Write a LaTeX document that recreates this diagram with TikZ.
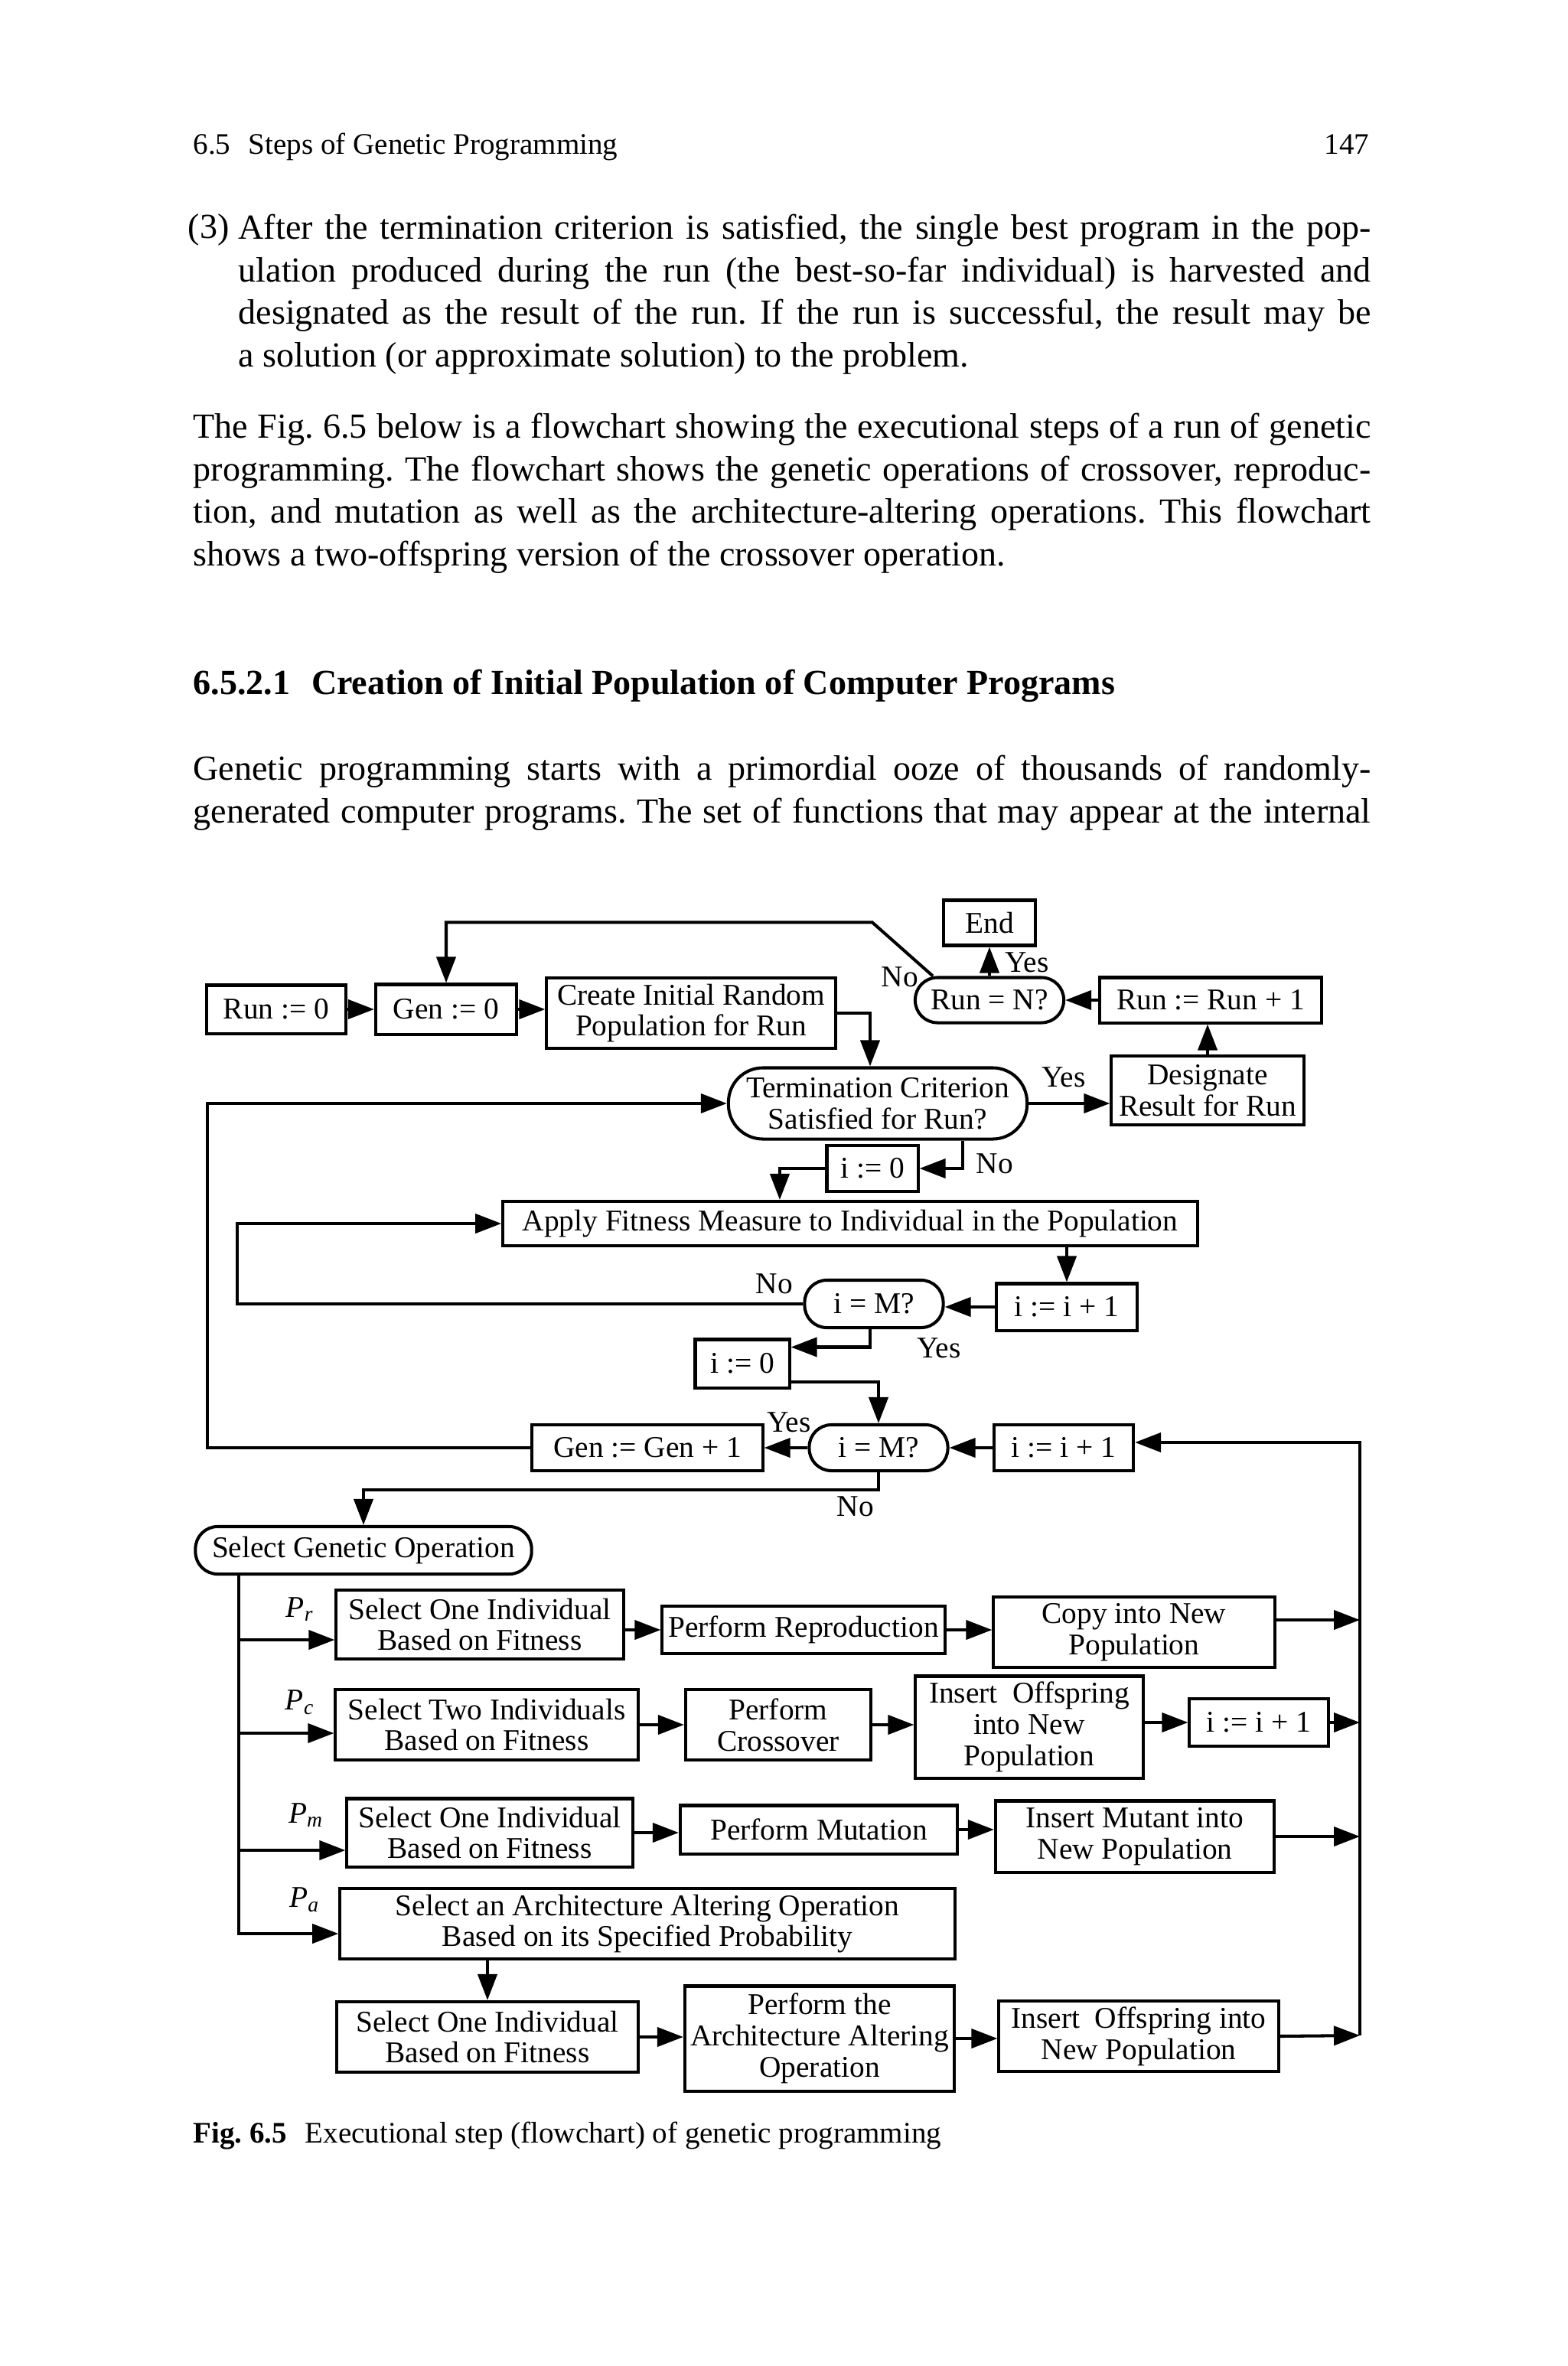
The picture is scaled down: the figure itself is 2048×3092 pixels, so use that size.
\documentclass[tikz,border=0pt]{standalone}
\usepackage{fontspec}
\setmainfont{Liberation Serif}
\usetikzlibrary{positioning, arrows.meta, calc}
\newcommand{\pagetext}{\fontsize{13.1}{15.8}\selectfont}
\newcommand{\smalltext}{\fontsize{11.1}{13.3}\selectfont}
\newcommand{\chartfont}{\fontsize{11.2}{11.6}\selectfont}
\tikzset{sz/.style 2 args={minimum width=#1cm, minimum height=#2cm}}
\frenchspacing

\begin{document}
\begin{tikzpicture}[x=0.01cm, y=-0.01cm,
    box/.style={draw, line width=1.15pt, align=center, inner sep=1pt, font=\chartfont},
    decide/.style={box, rounded corners=0.29cm},
    lbl/.style={font=\chartfont, inner sep=0pt},
    arr/.style={line width=1.15pt, -{Triangle[length=0.34cm, width=0.25cm]}},
    para/.style={anchor=north west, align=justify, inner sep=0pt, font=\pagetext}]
  \useasboundingbox (0,0) rectangle (2048,3092);
  \fill[white] (0,0) rectangle (2048,3092);

  % page text
  \node[anchor=base west, font=\smalltext, inner sep=0pt] (head) at (252,202)
    {6.5\hspace{0.6em}Steps of Genetic Programming};
  \node[anchor=base east, font=\smalltext, inner sep=0pt] (pageno) at (1790,202) {147};
  \node[anchor=base west, font=\pagetext, inner sep=0pt] (itemno) at (245,312) {(3)};
  \node[para, text width=14.79cm] (item) at (311,273)
    {\strut After the termination criterion is satisfied, the single best program in the pop-\linebreak
     ulation produced during the run (the best-so-far individual) is harvested and\linebreak
     designated as the result of the run. If the run is successful, the result may be\linebreak
     a solution (or approximate solution) to the problem.};
  \node[para, text width=15.38cm] (intro) at (252,533)
    {\strut The Fig.~6.5 below is a flowchart showing the executional steps of a run of genetic\linebreak
     programming. The flowchart shows the genetic operations of crossover, reproduc-\linebreak
     tion, and mutation as well as the architecture-altering operations. This flowchart\linebreak
     shows a two-offspring version of the crossover operation.};
  \node[anchor=base west, font=\pagetext\bfseries, inner sep=0pt] (sect) at (252,908)
    {6.5.2.1\hspace{0.6em}Creation of Initial Population of Computer Programs};
  \node[para, text width=15.38cm] (ooze) at (252,980)
    {\strut Genetic programming starts with a primordial ooze of thousands of randomly-\linebreak
     generated computer programs. The set of functions that may appear at the internal{\parfillskip=0pt\par}};

  % flowchart: run and generation loop
  \node[box, sz={1.82}{0.63}] (run0) at (361,1319) {Run := 0};
  \node[box, sz={1.84}{0.65}] (gen0) at (583,1319) {Gen := 0};
  \node[box, sz={3.77}{0.92}] (create) at (903,1324) {Create Initial Random\\Population for Run};
  \node[box, sz={1.20}{0.59}] (endbox) at (1293,1206) {End};
  \node[decide, sz={1.94}{0.59}] (runN) at (1293,1307) {Run = N?};
  \node[box, sz={2.90}{0.59}] (runinc) at (1582,1307) {Run := Run + 1};
  \node[decide, rounded corners=0.45cm, sz={3.90}{0.93}] (term) at (1147,1442)
    {Termination Criterion\\Satisfied for Run?};
  \node[box, sz={2.51}{0.90}] (desig) at (1578,1425) {Designate\\Result for Run};
  \node[box, sz={1.19}{0.60}] (izero) at (1140,1527) {i := 0};
  \node[box, sz={9.07}{0.58}] (apply) at (1111,1599)
    {Apply Fitness Measure to Individual in the Population};
  \node[decide, sz={1.81}{0.62}] (imA) at (1142,1704) {i = M?};
  \node[box, sz={1.84}{0.61}] (iincA) at (1394,1708) {i := i + 1};
  \node[box, sz={1.23}{0.63}] (izeroB) at (970,1782) {i := 0};
  \node[decide, sz={1.81}{0.60}] (imB) at (1148,1892) {i = M?};
  \node[box, sz={1.82}{0.60}] (iincB) at (1390,1892) {i := i + 1};
  \node[box, sz={3.01}{0.60}] (geninc) at (846,1892) {Gen := Gen + 1};
  \node[decide, sz={4.39}{0.62}] (selop) at (475,2026) {Select Genetic Operation};

  % genetic operations
  \node[box, sz={3.75}{0.90}] (rsel) at (627,2123) {Select One Individual\\Based on Fitness};
  \node[box, sz={3.69}{0.62}] (rrep) at (1050,2130) {Perform Reproduction};
  \node[box, sz={3.67}{0.92}] (rcopy) at (1482,2133) {Copy into New\\Population};
  \node[box, sz={3.95}{0.92}] (csel) at (636,2254) {Select Two Individuals\\Based on Fitness};
  \node[box, sz={2.42}{0.92}] (ccross) at (1017,2254) {Perform\\Crossover};
  \node[box, sz={2.97}{1.33}] (cins) at (1345,2257) {Insert\ \ Offspring\\into New\\Population};
  \node[box, sz={1.81}{0.62}] (cinc) at (1645,2251) {i := i + 1};
  \node[box, sz={3.73}{0.89}] (msel) at (640,2395) {Select One Individual\\Based on Fitness};
  \node[box, sz={3.62}{0.63}] (mmut) at (1070,2391) {Perform Mutation};
  \node[box, sz={3.64}{0.93}] (mins) at (1483,2400) {Insert Mutant into\\New Population};
  \node[box, sz={8.03}{0.92}] (asel) at (846,2514)
    {Select an Architecture Altering Operation\\Based on its Specified Probability};
  \node[box, sz={3.94}{0.92}] (aone) at (637,2662) {Select One Individual\\Based on Fitness};
  \node[box, sz={3.52}{1.37}] (aperf) at (1071,2664) {Perform the\\Architecture Altering\\Operation};
  \node[box, sz={3.65}{0.92}] (ains) at (1488,2661) {Insert\ \ Offspring into\\New Population};

  \node[lbl] (prlbl) at (392,2103) {\textit{P\textsubscript{r}}};
  \node[lbl] (pclbl) at (392,2225) {\textit{P\textsubscript{c}}};
  \node[lbl] (pmlbl) at (400,2372) {\textit{P\textsubscript{m}}};
  \node[lbl] (palbl) at (398,2483) {\textit{P\textsubscript{a}}};

  \coordinate (coll) at (1777,1885);
  \coordinate (collend) at (1777,2660);
  \coordinate (trunk) at ($(selop.south west)+(59,0)$);

  % connectors
  \draw[arr] (run0.east) -- (gen0.west);
  \draw[arr] (gen0.east) -- (gen0.east -| create.west);
  \draw[arr] (create.east) -| ([xshift=-0.1cm]term.north);
  \draw[arr] (runinc.west) -- (runN.east);
  \draw[arr] (runN.north) -- (endbox.south);
  \draw[arr] ($(runN.north west)+(25,0)$) -- ++(-79,-70) -| (gen0.north);
  \draw[arr] (term.east) -- (term.east -| desig.west);
  \draw[arr] (desig.north) -- (desig.north |- runinc.south);
  \draw[arr] ([xshift=1.11cm]term.south) |- (izero.east);
  \draw[arr] (izero.west) -| ([xshift=-0.92cm]apply.north);
  \draw[arr] (geninc.west) -- ++(-422,0) |- (term.west);
  \draw[arr] (apply.south -| iincA.north) -- (iincA.north);
  \draw[arr] (iincA.west) -- (iincA.west -| imA.east);
  \draw[arr] (imA.west) -- ++(-739,0) |- (apply.west);
  \draw[arr] ([xshift=-0.05cm]imA.south) |- ([yshift=-0.12cm]izeroB.north east);
  \draw[arr] ([yshift=0.1cm]izeroB.south east) -| (imB.north);
  \draw[arr] (iincB.west) -- (imB.east);
  \draw[arr] (imB.west) -- (geninc.east);
  \draw[arr] (imB.south) -- ++(0,23) -| (selop.north);

  \foreach \n/\s in {rsel/0.2, csel/0.11, msel/0.23, asel/0.13}
    \draw[arr] (trunk) |- ([yshift=-\s cm]\n.west);

  \draw[arr] (rrep.west -| rsel.east) -- (rrep.west);
  \draw[arr] (rrep.east) -- (rrep.east -| rcopy.west);
  \draw[arr] ([yshift=0.16cm]rcopy.east) -- ([yshift=0.16cm]rcopy.east -| coll);
  \draw[arr] (csel.east) -- (csel.east -| ccross.west);
  \draw[arr] (ccross.east) -- (ccross.east -| cins.west);
  \draw[arr] (cinc.west -| cins.east) -- (cinc.west);
  \draw[arr] (cinc.east) -- (cinc.east -| coll);
  \draw[arr] (msel.east) -- (msel.east -| mmut.west);
  \draw[arr] (mmut.east) -- (mmut.east -| mins.west);
  \draw[arr] (mins.east) -- (mins.east -| coll);
  \draw[arr] (asel.south -| aone.north) -- (aone.north);
  \draw[arr] (aone.east) -- (aone.east -| aperf.west);
  \draw[arr] (aperf.east) -- (aperf.east -| ains.west);
  \draw[arr] (ains.east) -- (collend);
  \draw[arr] (collend) -- (coll) -- (coll -| iincB.east);

  % branch labels
  \node[lbl] (noRun) at (1176,1277) {No};
  \node[lbl] (yesEnd) at (1342,1258) {Yes};
  \node[lbl] (yesTerm) at (1390,1408) {Yes};
  \node[lbl] (noTerm) at (1300,1521) {No};
  \node[lbl] (noA) at (1012,1678) {No};
  \node[lbl] (yesA) at (1227,1762) {Yes};
  \node[lbl] (yesB) at (1031,1859) {Yes};
  \node[lbl] (noB) at (1118,1969) {No};

  \node[anchor=base west, font=\smalltext, inner sep=0pt] (caption) at (252,2800)
    {\textbf{Fig.~6.5}\hspace{0.6em}Executional step (flowchart) of genetic programming};
\end{tikzpicture}
\end{document}
